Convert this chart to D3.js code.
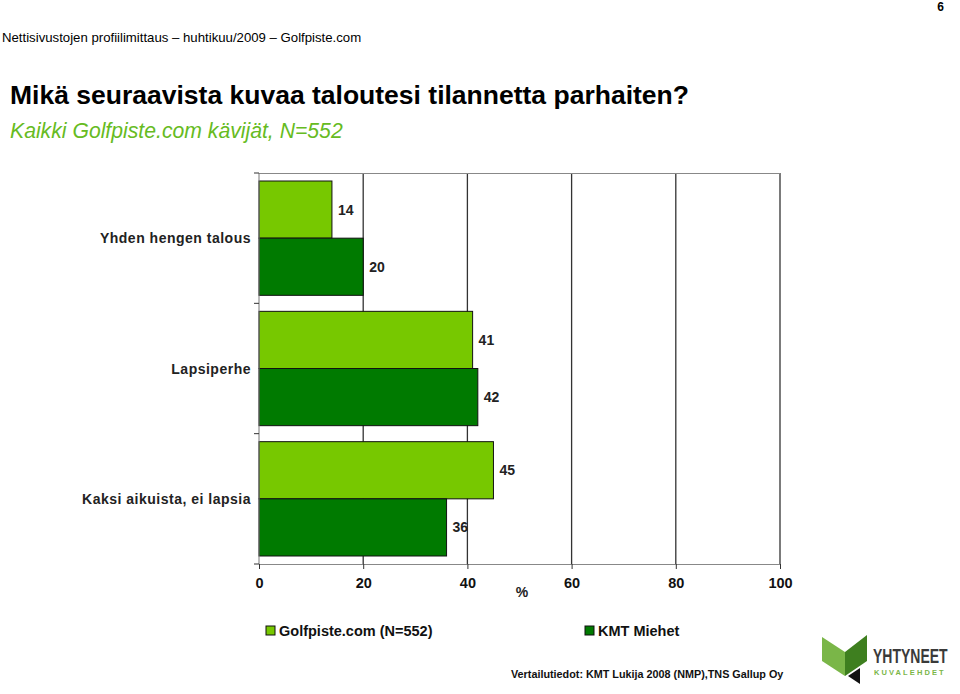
<!DOCTYPE html>
<html><head><meta charset="utf-8">
<script src="https://cdn.jsdelivr.net/npm/d3@7"></script>
<style>body{margin:0;background:#fff}svg{display:block}text{font-family:"Liberation Sans",Arial,sans-serif}</style>
</head><body><svg id="c" width="960" height="694"></svg>
<script>
const categories = ["Yhden hengen talous", "Lapsiperhe", "Kaksi aikuista, ei lapsia"];
const seriesNames = ["Golfpiste.com (N=552)", "KMT Miehet"];
const golfpiste = [14, 41, 45];
const kmtMiehet = [20, 42, 36];
const xTicks = [0, 20, 40, 60, 80, 100];
const colors = ["#77C800", "#007A00"];

const svg = d3.select("#c");
const L = 259, R = 780, T = 173, B = 564;
const x = d3.scaleLinear().domain([0, 100]).range([L, R]);
const y = d3.scaleBand().domain(categories).range([T, B]);
const ys = d3.scaleBand().domain([0, 1]).range([0, y.bandwidth()]).paddingOuter(0.14).paddingInner(0);

// header
svg.append("text").attr("x", 2).attr("y", 42).attr("font-size", 13.2).text("Nettisivustojen profiilimittaus – huhtikuu/2009 – Golfpiste.com");
svg.append("text").attr("x", 944).attr("y", 11).attr("text-anchor", "end").attr("font-size", 12).attr("font-weight", "bold").text("6");
svg.append("text").attr("x", 10).attr("y", 104).attr("font-size", 26.5).attr("font-weight", "bold").text("Mikä seuraavista kuvaa taloutesi tilannetta parhaiten?");
svg.append("text").attr("x", 10).attr("y", 138).attr("font-size", 21.2).attr("font-style", "italic").attr("fill", "#66BB22").text("Kaikki Golfpiste.com kävijät, N=552");

// gridlines
svg.append("g").selectAll("line").data(xTicks.slice(1)).join("line")
  .attr("x1", d => x(d)).attr("x2", d => x(d)).attr("y1", T).attr("y2", B)
  .attr("stroke", "#333").attr("stroke-width", 1.3);
svg.append("line").attr("x1", L).attr("x2", R).attr("y1", T + 0.5).attr("y2", T + 0.5).attr("stroke", "#888");

// bars
const series = [golfpiste, kmtMiehet];
series.forEach((vals, si) => {
  svg.append("g").selectAll("rect").data(vals).join("rect")
    .attr("x", L).attr("y", (d, i) => y(categories[i]) + ys(si))
    .attr("width", d => x(d) - L).attr("height", ys.bandwidth())
    .attr("fill", colors[si]).attr("stroke", "#111").attr("stroke-width", 1);
  svg.append("g").selectAll("text").data(vals).join("text")
    .attr("x", d => x(d) + 6).attr("y", (d, i) => y(categories[i]) + ys(si) + ys.bandwidth() / 2 + 5)
    .attr("font-size", 14).attr("font-weight", "bold").attr("fill", "#222").text(d => d);
});

// y axis
svg.append("line").attr("x1", L).attr("x2", L).attr("y1", T).attr("y2", B).attr("stroke", "#777");
const yTickPos = categories.map(c => y(c)).concat([B]);
svg.append("g").selectAll("line").data(yTickPos).join("line")
  .attr("x1", L - 5).attr("x2", L).attr("y1", d => d).attr("y2", d => d).attr("stroke", "#333");
svg.append("g").selectAll("text").data(categories).join("text")
  .attr("x", 251).attr("y", d => y(d) + y.bandwidth() / 2 + 5)
  .attr("text-anchor", "end").attr("font-size", 14).attr("font-weight", "bold").attr("letter-spacing", 0.5).attr("fill", "#222").text(d => d);

// x axis
const xa = svg.append("g").attr("transform", `translate(0,${B})`)
  .call(d3.axisBottom(x).tickValues(xTicks).tickSize(5).tickSizeOuter(0).tickPadding(9));
xa.select(".domain").attr("stroke", "#888");
xa.selectAll(".tick line").attr("stroke", "#333");
xa.selectAll(".tick text").attr("font-family", "'Liberation Sans',Arial,sans-serif").attr("font-size", 14.5).attr("font-weight", "bold").attr("fill", "#111");
svg.append("text").attr("x", 522).attr("y", 597).attr("text-anchor", "middle").attr("font-size", 14).attr("font-weight", "bold").attr("fill", "#222").text("%");

// legend
const legX = [266, 585];
seriesNames.forEach((n, i) => {
  svg.append("rect").attr("x", legX[i]).attr("y", 626).attr("width", 9).attr("height", 9).attr("fill", colors[i]).attr("stroke", "#111");
  svg.append("text").attr("x", legX[i] + 13).attr("y", 636).attr("font-size", 14.5).attr("font-weight", "bold").attr("fill", "#111").text(n);
});

// footer
svg.append("text").attr("x", 511).attr("y", 678).attr("font-size", 10.8).attr("font-weight", "bold").attr("fill", "#111").text("Vertailutiedot: KMT Lukija 2008 (NMP),TNS Gallup Oy");

// logo
const lg = svg.append("g");
lg.append("path").attr("d", "M822,637 L845,652 L845,676 L822,661 Z").attr("fill", "#7AB648");
lg.append("path").attr("d", "M845,652 L867,635 L867,661 L845,676 Z").attr("fill", "#3E7F1F");
lg.append("path").attr("d", "M848,676 L860,668 L860,684 Z").attr("fill", "#111");
lg.append("text").attr("transform", "translate(873,663) scale(1,1.5)")
  .attr("font-family", "'DejaVu Sans Condensed','Liberation Sans Narrow',sans-serif").attr("font-weight", "bold")
  .attr("font-size", 14).attr("fill", "#3a3a3a").text("YHTYNEET");
lg.append("text").attr("x", 874).attr("y", 675).attr("font-size", 7.5).attr("font-weight", "bold").attr("fill", "#7AB648").attr("letter-spacing", 2.1).text("KUVALEHDET");
</script></body></html>
